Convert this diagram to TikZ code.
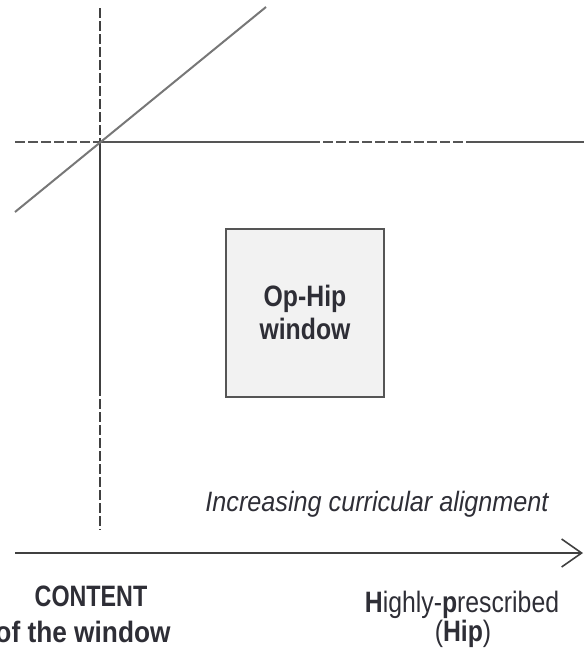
\documentclass[tikz,border=0pt]{standalone}
\usepackage{fontspec}
\setmainfont{Liberation Sans}
\newfontfamily\fsmain{Liberation Sans}[FakeStretch=0.84]
\newfontfamily\fscaps{Liberation Sans}[FakeStretch=0.79]
\newfontfamily\fswide{Liberation Sans}[FakeStretch=0.89]
\newfontfamily\fsital{Liberation Sans}[FakeStretch=0.9]
\usetikzlibrary{arrows.meta}
\definecolor{txtc}{HTML}{2E2E36}
\definecolor{linec}{HTML}{404040}
\definecolor{hlinec}{HTML}{555555}
\definecolor{diagc}{HTML}{777777}
\definecolor{boxfill}{HTML}{F2F2F2}
\definecolor{boxline}{HTML}{555555}
\tikzset{
  axisline/.style={line width=1.8pt, draw=linec},
  hline/.style={line width=2pt, draw=hlinec},
  dashpat/.style={dash pattern=on 10pt off 3pt},
  diagline/.style={line width=2pt, draw=diagc},
  windowbox/.style={draw=boxline, fill=boxfill, line width=1.6pt},
  lbl/.style={text=txtc, inner sep=0pt, anchor=base, font=\fsmain\fontsize{29.5}{34}\selectfont},
  boldlbl/.style={lbl, font=\fsmain\bfseries\fontsize{29.5}{34}\selectfont},
  itlbl/.style={text=txtc, inner sep=0pt, anchor=base, font=\fsital\itshape\fontsize{28}{32}\selectfont},
}
\begin{document}
\begin{tikzpicture}[x=1pt, y=-1pt]
\useasboundingbox (0,0) rectangle (584,656);
\clip (0,0) rectangle (584,656);
% key points
\coordinate (vtop) at (100,8);
\coordinate (cross) at (100,142);
\coordinate (vmid) at (100,386);
\coordinate (vbot) at (100,530);
\coordinate (hleft) at (15,142);
\coordinate (hd1) at (310,142);
\coordinate (hd2) at (467,142);
\coordinate (hright) at (584,142);
\coordinate (dstart) at (15,212);
\coordinate (dend) at (266,7);
\coordinate (astart) at (15,553);
\coordinate (aend) at (583,553);
% vertical line
\draw[axisline, dashpat] (vtop) -- (cross);
\draw[axisline] (cross) -- (vmid);
\draw[axisline, dashpat] (vmid) -- (vbot);
% horizontal line
\draw[hline, dashpat] (hleft) -- (cross);
\draw[hline] (cross) -- (hd1);
\draw[hline, dashpat] (hd1) -- (hd2);
\draw[hline] (hd2) -- (hright);
% diagonal
\draw[diagline] (dstart) -- (dend);
% window box
\node[windowbox, minimum width=158pt, minimum height=168pt, inner sep=0pt] (box) at (305,313) {};
\node[boldlbl] (op) at (305,306) {Op-Hip};
\node[boldlbl] (win) at (305,339) {window};
% arrow
\draw[axisline, line width=1.8pt, -{Straight Barb[length=20pt, width=28pt, line width=1.6pt]}] (astart) -- (aend);
% labels
\node[itlbl] (incr) at (377,511) {Increasing curricular alignment};
\node[boldlbl, font=\fscaps\bfseries\fontsize{29.5}{34}\selectfont] (content) at (91,606) {CONTENT};
\node[boldlbl, font=\fswide\bfseries\fontsize{29.5}{34}\selectfont] (ofwin) at (83,642) {of the window};
\node[lbl] (hip1) at (462,612) {\textbf{H}ighly-\textbf{p}rescribed};
\node[lbl] (hip2) at (463,641) {(\textbf{Hip})};
\end{tikzpicture}
\end{document}
